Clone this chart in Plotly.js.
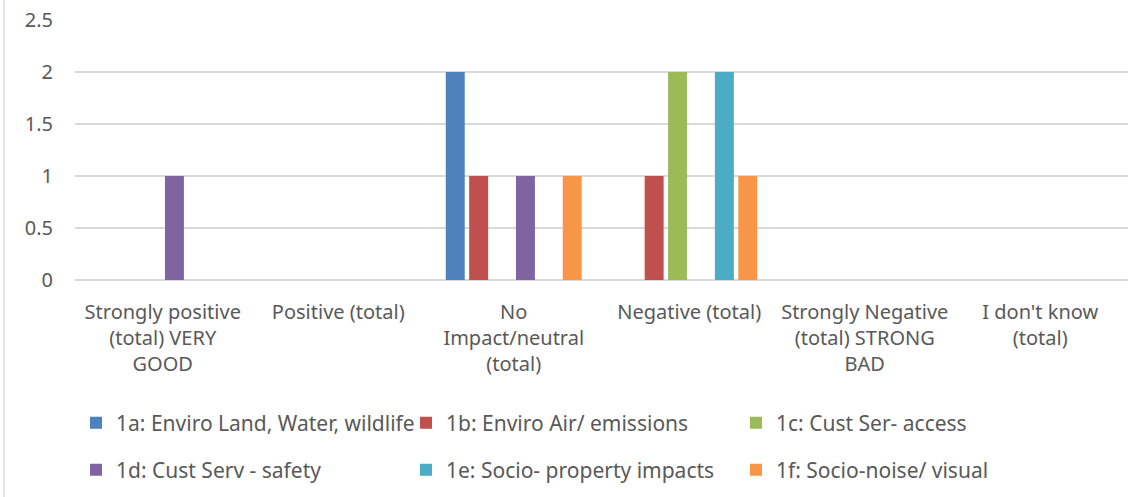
<!DOCTYPE html>
<html>
<head>
<meta charset="utf-8">
<script src="https://cdn.plot.ly/plotly-3.0.1.min.js"></script>
<style>html,body{margin:0;padding:0;background:#fff;}#chart{width:1143px;height:497px;}</style>
</head>
<body>
<div id="chart"></div>
<script>
// ---- data ----
var categories = ["Strongly positive (total) VERY GOOD", "Positive (total)", "No Impact/neutral (total)", "Negative (total)", "Strongly Negative (total) STRONG BAD", "I don't know (total)"];
var tickLabels = ["Strongly positive<br>(total) VERY<br>GOOD", "Positive (total)", "No<br>Impact/neutral<br>(total)", "Negative (total)", "Strongly Negative<br>(total) STRONG<br>BAD", "I don't know<br>(total)"];
var seriesNames = ["1a: Enviro Land, Water, wildlife", "1b: Enviro Air/ emissions", "1c: Cust Ser- access", "1d: Cust Serv - safety", "1e: Socio- property impacts", "1f: Socio-noise/ visual"];
var s1a = [0, 0, 2, 0, 0, 0];
var s1b = [0, 0, 1, 1, 0, 0];
var s1c = [0, 0, 0, 2, 0, 0];
var s1d = [1, 0, 1, 0, 0, 0];
var s1e = [0, 0, 0, 2, 0, 0];
var s1f = [0, 0, 1, 1, 0, 0];
var yTicks = [0, 0.5, 1, 1.5, 2, 2.5];
var yTickText = ["0", "0.5", "1", "1.5", "2", "2.5"];

var seriesValues = [s1a, s1b, s1c, s1d, s1e, s1f];
var colors = ["#4F81BD", "#C0504D", "#9BBB59", "#8064A2", "#4BACC6", "#F79646"];
var legendIds = ["legend", "legend2", "legend3", "legend4", "legend5", "legend6"];

var FONT = '"Noto Sans", "Open Sans", sans-serif';
var TXT = "#595959";
var FS = 20;

var traces = seriesValues.map(function (vals, i) {
  return {
    type: "bar",
    name: seriesNames[i],
    x: categories,
    y: vals,
    marker: { color: colors[i], line: { width: 0 } },
    legend: legendIds[i],
    hoverinfo: "x+y+name"
  };
});

var legendX = [0.0665, 0.3552, 0.6439];
var legendY = [0.1489, 0.0543];
function mkLegend(col, row) {
  return {
    orientation: "h",
    xref: "container", yref: "container",
    x: legendX[col], xanchor: "left",
    y: legendY[row], yanchor: "middle",
    font: { family: FONT, size: 21, color: TXT },
    bgcolor: "rgba(0,0,0,0)",
    borderwidth: 0
  };
}

var layout = {
  width: 1143,
  height: 497,
  margin: { l: 75, r: 15, t: 20, b: 217, autoexpand: false },
  paper_bgcolor: "#ffffff",
  plot_bgcolor: "#ffffff",
  font: { family: FONT, size: FS, color: TXT },
  barmode: "group",
  bargap: 0.2,
  bargroupgap: 0.19,
  showlegend: true,
  xaxis: {
    type: "category",
    tickmode: "array",
    tickvals: categories,
    ticktext: tickLabels,
    showgrid: false,
    showline: false,
    ticks: "",
    ticklabelstandoff: 18,
    tickfont: { family: FONT, size: FS, color: TXT },
    fixedrange: true
  },
  yaxis: {
    range: [0, 2.5],
    tickmode: "array",
    tickvals: yTicks,
    ticktext: yTickText,
    showgrid: true,
    gridcolor: "#d9d9d9",
    gridwidth: 1.4,
    zeroline: true,
    zerolinecolor: "#d9d9d9",
    zerolinewidth: 1.4,
    showline: false,
    ticks: "",
    ticklabelstandoff: 21,
    tickfont: { family: FONT, size: FS, color: TXT },
    fixedrange: true
  },
  legend: mkLegend(0, 0),
  legend2: mkLegend(1, 0),
  legend3: mkLegend(2, 0),
  legend4: mkLegend(0, 1),
  legend5: mkLegend(1, 1),
  legend6: mkLegend(2, 1),
  shapes: [{
    type: "line", xref: "paper", yref: "paper",
    x0: -0.0674, x1: -0.0674, y0: -0.84, y1: 1.08,
    line: { color: "#d9d9d9", width: 1.5 }
  }]
};

Plotly.newPlot("chart", traces, layout, { displayModeBar: false, staticPlot: true });
</script>
</body>
</html>
